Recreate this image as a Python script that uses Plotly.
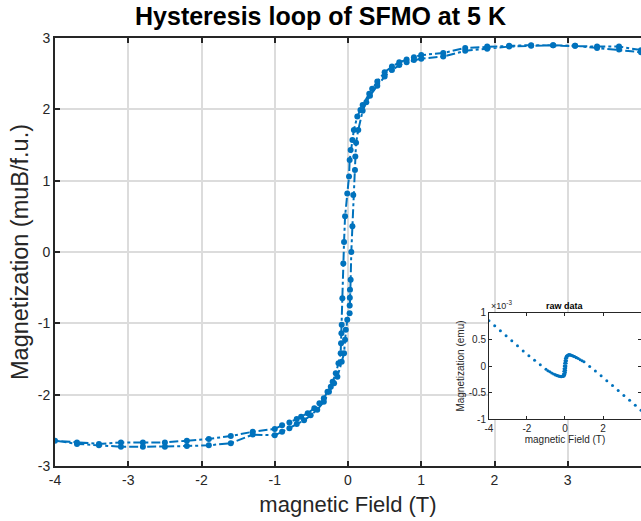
import plotly.graph_objects as go

# ---------------- main data: descending branch (+4 T -> -4 T) ----------------
H_down = [4.0, 3.7, 3.4, 3.1, 2.8, 2.5, 2.2, 1.9, 1.6, 1.3, 1.0, 0.9, 0.8, 0.7, 0.6, 0.5,
          0.40, 0.33, 0.29, 0.20, 0.17, 0.127, 0.08, 0.06, 0.036, 0.023, 0.014, -0.01,
          -0.04, -0.054, -0.064, -0.077, -0.086, -0.09, -0.095, -0.10, -0.13, -0.167,
          -0.21, -0.235, -0.28, -0.33, -0.39, -0.46, -0.55, -0.64, -0.7, -0.8, -0.9,
          -1.0, -1.3, -1.6, -1.9, -2.2, -2.5, -2.8, -3.1, -3.4, -3.7, -4.0]
M_down = [2.83, 2.88, 2.88, 2.89, 2.90, 2.90, 2.89, 2.88, 2.86, 2.79, 2.76, 2.73, 2.70, 2.66, 2.60, 2.52,
          2.39, 2.29, 2.22, 2.06, 1.99, 1.90, 1.71, 1.57, 1.43, 1.29, 1.06, 0.82,
          0.50, 0.14, -0.16, -0.65, -1.02, -1.14, -1.28, -1.42, -1.56, -1.70,
          -1.82, -1.89, -1.96, -2.05, -2.12, -2.19, -2.26, -2.31, -2.34, -2.39, -2.43,
          -2.48, -2.52, -2.58, -2.62, -2.645, -2.67, -2.67, -2.67, -2.69, -2.67, -2.645]

# ---------------- main data: ascending branch (-4 T -> +4 T) ----------------
H_up = [-3.7, -3.4, -3.1, -2.8, -2.5, -2.2, -1.9, -1.6, -1.3, -1.0, -0.9, -0.8, -0.7, -0.6,
        -0.51, -0.42, -0.33, -0.26, -0.19, -0.145, -0.086, -0.054, -0.04, -0.03, -0.01,
        0.022, 0.023, 0.025, 0.027, 0.036, 0.045, 0.06, 0.072, 0.095, 0.10, 0.11, 0.14,
        0.2, 0.25, 0.3, 0.4, 0.5, 0.6, 0.7, 0.8, 0.9, 1.0, 1.3, 1.6, 1.9, 2.2, 2.5, 2.8,
        3.1, 3.4, 3.7, 4.0]
M_up = [-2.69, -2.71, -2.73, -2.73, -2.73, -2.72, -2.71, -2.68, -2.56, -2.57, -2.52, -2.47, -2.41, -2.36,
        -2.29, -2.21, -2.10, -1.96, -1.84, -1.75, -1.54, -1.42, -1.23, -1.09, -0.95,
        -0.86, -0.75, -0.64, -0.53, -0.39, 0.0, 0.36, 0.80, 1.15, 1.34, 1.53, 1.71,
        1.98, 2.10, 2.19, 2.33, 2.46, 2.55, 2.62, 2.66, 2.69, 2.71, 2.74, 2.82, 2.85, 2.88, 2.89, 2.90,
        2.89, 2.86, 2.84, 2.80]

# ---------------- inset raw data (emu, x 1e-3) ----------------
H_raw = [-4.0, -3.7, -3.4, -3.1, -2.8, -2.5, -2.2, -1.9, -1.6, -1.3, -1.0,
         -0.9, -0.8, -0.7, -0.6, -0.5, -0.4, -0.33, -0.26, -0.2, -0.15, -0.1, -0.08, -0.06,
         -0.05, -0.04, -0.02, 0.0, 0.02, 0.05, 0.08, 0.12, 0.17, 0.22, 0.29, 0.35, 0.42,
         0.5, 0.6, 0.7, 0.8, 0.9, 1.0,
         -0.5, -0.4, -0.3, -0.2, -0.1, -0.05, -0.02, 0.0, 0.02, 0.03, 0.04, 0.05, 0.06,
         0.08, 0.1, 0.15, 0.2, 0.3, 0.4, 0.5, 0.6,
         1.3, 1.6, 1.9, 2.2, 2.5, 2.8, 3.1, 3.4, 3.7, 4.0]
raw_e3 = [0.855, 0.76, 0.665, 0.57, 0.475, 0.38, 0.285, 0.195, 0.11, 0.025, -0.06,
          -0.09, -0.11, -0.13, -0.15, -0.165, -0.18, -0.19, -0.195, -0.20, -0.195, -0.18, -0.15, -0.10,
          -0.05, 0.0, 0.05, 0.10, 0.14, 0.17, 0.19, 0.20, 0.21, 0.215, 0.21, 0.20, 0.19,
          0.175, 0.16, 0.14, 0.12, 0.10, 0.08,
          -0.17, -0.185, -0.195, -0.205, -0.20, -0.19, -0.17, -0.15, -0.12, -0.08, -0.04, 0.0, 0.05,
          0.10, 0.15, 0.19, 0.205, 0.205, 0.195, 0.18, 0.155,
          -0.01, -0.095, -0.185, -0.28, -0.37, -0.46, -0.555, -0.645, -0.74, -0.835]

x_ticks = [-4, -3, -2, -1, 0, 1, 2, 3, 4]
y_ticks = [-3, -2, -1, 0, 1, 2, 3]
inset_x_ticks = [-4, -2, 0, 2, 4]
inset_y_ticks = [-1, -0.5, 0, 0.5, 1]


def labels(vals):
    return [("%g" % v) for v in vals]  # plain hyphen-minus like the reference


BLUE = "#0072BD"
AX = "#262626"
FONT = "Liberation Sans, Arial, sans-serif"

fig = go.Figure()
fig.add_trace(go.Scatter(
    x=H_down + H_up, y=M_down + M_up, mode="lines+markers",
    line=dict(color=BLUE, width=2, dash="dashdot"),
    marker=dict(color=BLUE, size=6), xaxis="x", yaxis="y", showlegend=False))
fig.add_trace(go.Scatter(
    x=H_raw, y=raw_e3, mode="markers",
    marker=dict(color=BLUE, size=3), xaxis="x2", yaxis="y2", showlegend=False))

# white background for inset
fig.add_shape(type="rect", xref="x2 domain", yref="y2 domain", x0=0, x1=1, y0=0, y1=1,
              fillcolor="white", line=dict(width=0), layer="below")

fig.update_layout(
    width=641, height=521,
    margin=dict(l=55, r=0, t=38, b=55),
    paper_bgcolor="white", plot_bgcolor="white",
    font=dict(family=FONT, color=AX),
    title=dict(text="<b>Hysteresis loop of SFMO at 5 K</b>", x=0.5, xanchor="center",
               y=0.968, yanchor="middle", font=dict(size=25, color="black", family=FONT)),
    xaxis=dict(range=[-4, 4], tickvals=x_ticks, ticktext=labels(x_ticks),
               showgrid=True, gridcolor="#dcdcdc", gridwidth=1.5,
               zeroline=False, showline=True, linecolor=AX, linewidth=2, mirror="ticks",
               ticks="inside", ticklen=5, tickwidth=2, tickcolor=AX,
               tickfont=dict(size=14, color=AX),
               title=dict(text="magnetic Field (T)", font=dict(size=22, color=AX), standoff=10)),
    yaxis=dict(range=[-3, 3], tickvals=y_ticks, ticktext=labels(y_ticks),
               showgrid=True, gridcolor="#dcdcdc", gridwidth=1.5,
               zeroline=False, showline=True, linecolor=AX, linewidth=2,
               ticks="inside", ticklen=5, tickwidth=2, tickcolor=AX,
               tickfont=dict(size=14, color=AX),
               title=dict(text="Magnetization (muB/f.u.)", font=dict(size=23.5, color=AX), standoff=3)),
    xaxis2=dict(domain=[0.7406, 1.0], anchor="y2", range=[-4, 4], tickvals=inset_x_ticks,
                ticktext=labels(inset_x_ticks),
                showgrid=False, zeroline=False, showline=True, linecolor=AX, linewidth=1, mirror="ticks",
                ticks="inside", ticklen=3, tickcolor=AX, tickfont=dict(size=10, color=AX),
                title=dict(text="magnetic Field (T)", font=dict(size=10, color=AX), standoff=2)),
    yaxis2=dict(domain=[0.1098, 0.3575], anchor="x2", range=[-1, 1], tickvals=inset_y_ticks,
                ticktext=labels(inset_y_ticks),
                showgrid=False, zeroline=False, showline=True, linecolor=AX, linewidth=1, mirror="ticks",
                ticks="inside", ticklen=3, tickcolor=AX, tickfont=dict(size=10, color=AX),
                title=dict(text="Magnetization (emu)", font=dict(size=10, color=AX), standoff=2)),
    annotations=[
        dict(text="<b>raw data</b>", xref="x2 domain", yref="y2 domain", x=0.5, y=1.0,
             xanchor="center", yanchor="bottom", showarrow=False, font=dict(size=9, color="black")),
        dict(text="×10<sup>-3</sup>", xref="x2 domain", yref="y2 domain", x=0.0, y=1.0,
             xanchor="left", yanchor="bottom", showarrow=False, font=dict(size=9, color=AX)),
    ],
)

fig.write_html("out.html")
